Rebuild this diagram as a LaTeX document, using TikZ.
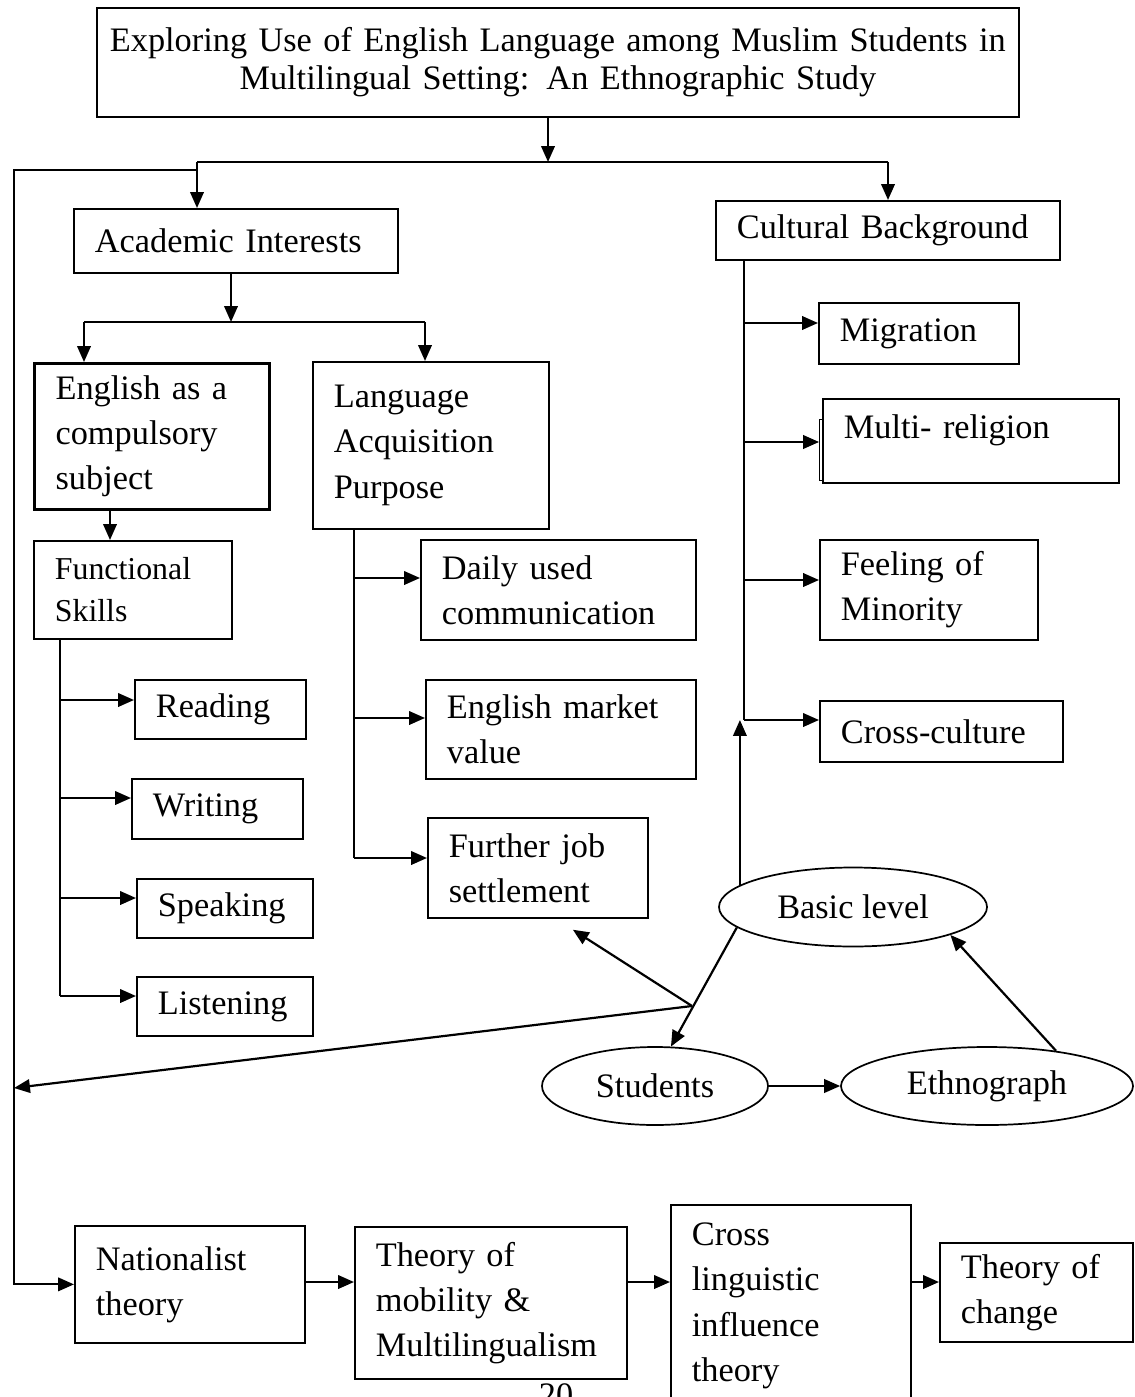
\documentclass[tikz,border=0pt]{standalone}
\usepackage{fontspec}
\setmainfont{Liberation Serif}
\usetikzlibrary{arrows.meta,shapes.geometric,calc}
\begin{document}
\begin{tikzpicture}[x=0.408pt,y=-0.408pt,
  every node/.style={font=\fontsize{14pt}{18.4pt}\selectfont},
  bx/.style 2 args={draw, line width=0.7pt, rectangle, anchor=north west,
     inner ysep=0pt, inner xsep=8.57pt, align=left,
     /utils/exec={\pgfmathsetmacro\bxw{(#1-42)*0.408}\pgfmathsetmacro\bxW{#1*0.408}\pgfmathsetmacro\bxH{#2*0.408}},
     text width=\bxw pt, minimum width=\bxW pt, minimum height=\bxH pt},
  ell/.style 2 args={draw, ellipse, line width=0.7pt, inner sep=0pt,
     /utils/exec={\pgfmathsetmacro\elW{#1*0.408}\pgfmathsetmacro\elH{#2*0.408}},
     minimum width=\elW pt, minimum height=\elH pt},
  arr/.style={line width=0.9pt, -{Triangle[length=6.5pt,width=5.5pt]}},
  ln/.style={line width=0.6pt}]
\fill[white] (0,0) rectangle (1134,1397);
\useasboundingbox (0,0) rectangle (1134,1397);

% boxes
\node[bx={922}{109}, align=center, inner xsep=2pt, text width=370pt,
      font=\fontsize{14pt}{15.6pt}\selectfont] (title) at (96,7)
  {Exploring Use of English Language among Muslim Students in\\ Multilingual Setting: An Ethnographic Study};
\node[bx={324}{64}] (acad) at (73,208) {Academic Interests};
\node[bx={344}{59}] (cult) at (715,200) {Cultural Background};
\node[bx={235}{146}, line width=1.3pt] (eng) at (33,362) {English as a\\ compulsory\\ subject};
\node[bx={236}{167}] (lang) at (312,361) {Language\\ Acquisition\\ Purpose};
\node[bx={198}{98}, font=\fontsize{13pt}{17.1pt}\selectfont] (func) at (33,540) {Functional\\ Skills};
\node[bx={171}{59}] (read) at (134,679) {Reading};
\node[bx={171}{60}] (writ) at (131,778) {Writing};
\node[bx={176}{59}] (speak) at (136,878) {Speaking};
\node[bx={176}{59}] (listen) at (136,976) {Listening};
\node[bx={275}{100}] (daily) at (420,539) {Daily used\\ communication};
\node[bx={270}{99}] (market) at (425,679) {English market\\ value};
\node[bx={220}{100}] (further) at (427,817) {Further job\\ settlement};
\node[bx={200}{61}] (migr) at (818,302) {Migration};
\node[bx={296}{84}, text depth=12pt] (mrel) at (822,398) {Multi- religion};
\draw[line width=0.4pt] (819,419) rectangle (822,480);
\node[bx={218}{100}] (feel) at (819,539) {Feeling of\\ Minority};
\node[bx={243}{61}] (ccult) at (819,700) {Cross-culture};
\node[bx={230}{117}] (nat) at (74,1225) {Nationalist\\ theory};
\node[bx={272}{152}] (mob) at (354,1226) {Theory of\\ mobility \&\\ Multilingualism};
\node[bx={240}{202}] (cross) at (670,1204) {Cross\\ linguistic\\ influence\\ theory};
\node[bx={193}{99}] (change) at (939,1242) {Theory of\\ change};

% ellipses
\node[ell={268}{79}] (basic) at (853,907) {Basic level};
\node[ell={226}{78}] (stud) at (655,1086) {Students};
\node[ell={292}{78}] (eth) at (987,1086) {Ethnograph};

% page number
\node[anchor=base] (pg) at (556,1406) {20};

% top branching
\coordinate (j1) at (548,162);
\coordinate (bl) at (197,162);
\coordinate (br) at (888,162);
\coordinate (lt) at (197,170);
\coordinate (lx) at (14,170);
\draw[arr] (title.south -| j1) -- (j1);
\draw[ln] (bl) -- (br);
\draw[arr] (bl) -- (bl |- acad.north);
\draw[arr] (br) -- (br |- cult.north);
\draw[arr] (lt) -- (lx) |- (nat.west);

% academic branching
\coordinate (j2) at (231,322);
\coordinate (j2l) at (84,322);
\coordinate (j2r) at (425,322);
\draw[arr] (acad.south -| j2) -- (j2);
\draw[ln] (j2l) -- (j2r);
\draw[arr] (j2l) -- (j2l |- eng.north);
\draw[arr] (j2r) -- (j2r |- lang.north);
\coordinate (ef) at (110,0);
\draw[arr] (eng.south -| ef) -- (func.north -| ef);

% functional skills
\coordinate (fa) at (60,700);
\coordinate (fb) at (60,798);
\coordinate (fc) at (60,898);
\coordinate (fd) at (60,996);
\draw[ln] (func.south -| fa) -- (fd);
\draw[arr] (fa) -- (read.west |- fa);
\draw[arr] (fb) -- (writ.west |- fb);
\draw[arr] (fc) -- (speak.west |- fc);
\draw[arr] (fd) -- (listen.west |- fd);

% language acquisition
\coordinate (la) at (354,578);
\coordinate (lb) at (354,718);
\coordinate (lc) at (354,858);
\draw[ln] (lang.south -| la) -- (lc);
\draw[arr] (la) -- (daily.west |- la);
\draw[arr] (lb) -- (market.west |- lb);
\draw[arr] (lc) -- (further.west |- lc);

% cultural background
\coordinate (ca) at (744,323);
\coordinate (cb) at (744,442);
\coordinate (cc) at (744,580);
\coordinate (cd) at (744,720);
\draw[ln] (cult.south -| ca) -- (cd);
\draw[arr] (ca) -- (migr.west |- ca);
\draw[arr] (cb) -- ([xshift=-1.2pt]mrel.west |- cb);
\draw[arr] (cc) -- (feel.west |- cc);
\draw[arr] (cd) -- (ccult.west |- cd);

% ellipse connectors
\draw[arr] (basic.169) -- (basic.169 |- cd);
\draw[arr] (basic.190) -- (stud.68);
\coordinate (jn) at (692,1006);
\coordinate (lh) at (14,1088);
\draw[arr] (jn) -- ($(further.south)+(35,11)$);
\draw[arr] (jn) -- (lh);
\draw[arr] (stud.east) -- (eth.west);
\draw[arr] (eth.27) -- (basic.-16);

% bottom chain
\coordinate (ba) at (0,1282);
\draw[arr] (nat.east |- ba) -- (mob.west |- ba);
\draw[arr] (mob.east |- ba) -- (cross.west |- ba);
\draw[arr] (cross.east |- ba) -- (change.west |- ba);
\end{tikzpicture}
\end{document}
